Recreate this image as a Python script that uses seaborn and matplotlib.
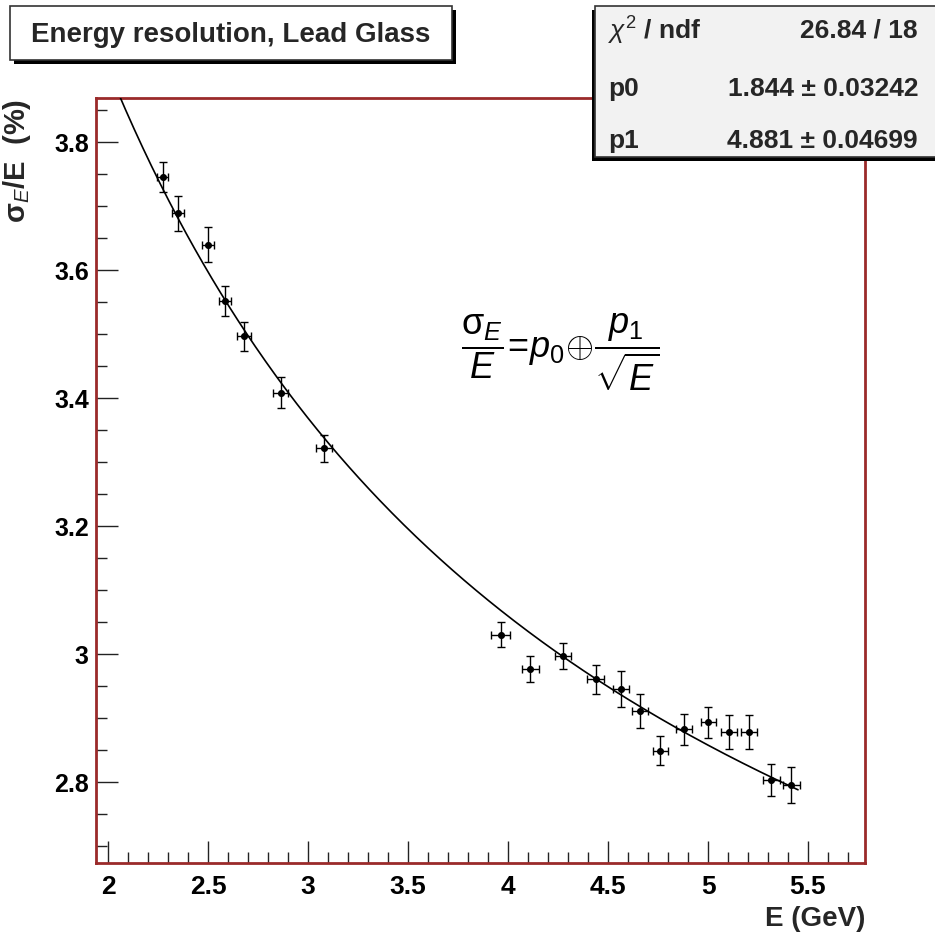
import numpy as np
import pandas as pd
import matplotlib
matplotlib.use("Agg")
import matplotlib.pyplot as plt
from matplotlib.patches import Rectangle
from matplotlib.ticker import MultipleLocator
import seaborn as sns

# ---- data ----
energy = [2.272, 2.350, 2.499, 2.584, 2.679, 2.862, 3.080, 3.962, 4.110, 4.274,
          4.437, 4.567, 4.659, 4.762, 4.880, 5.002, 5.105, 5.205, 5.317, 5.417]
resolution = [3.745, 3.688, 3.639, 3.551, 3.496, 3.408, 3.321, 3.030, 2.976, 2.997,
              2.960, 2.945, 2.911, 2.849, 2.882, 2.893, 2.878, 2.878, 2.803, 2.795]
energy_err = [0.029, 0.030, 0.031, 0.032, 0.034, 0.036, 0.040, 0.046, 0.042, 0.042,
              0.042, 0.040, 0.040, 0.036, 0.040, 0.037, 0.040, 0.040, 0.042, 0.042]
resolution_err = [0.023, 0.027, 0.027, 0.024, 0.023, 0.024, 0.021, 0.020, 0.020, 0.020,
                  0.022, 0.028, 0.027, 0.022, 0.024, 0.024, 0.027, 0.027, 0.025, 0.028]

# fit results shown in the stats box
p0, p0_err = 1.844, 0.03242
p1, p1_err = 4.881, 0.04699
chi2, ndf = 26.84, 18
fit_range = (2.0, 5.45)

title_text = "Energy resolution, Lead Glass"
x_ticks_major = [2, 2.5, 3, 3.5, 4, 4.5, 5, 5.5]
x_tick_labels = ["2", "2.5", "3", "3.5", "4", "4.5", "5", "5.5"]
y_ticks_major = [2.8, 3.0, 3.2, 3.4, 3.6, 3.8]
y_tick_labels = ["2.8", "3", "3.2", "3.4", "3.6", "3.8"]

df = pd.DataFrame({"E": energy, "res": resolution,
                   "dE": energy_err, "dres": resolution_err})
e_fit = np.linspace(fit_range[0], fit_range[1], 400)
fit_df = pd.DataFrame({"E": e_fit, "res": np.sqrt(p0 ** 2 + p1 ** 2 / e_fit)})

# ---- style ----
sns.set_theme(style="white")
plt.rcParams["font.family"] = ["Liberation Sans", "DejaVu Sans"]
plt.rcParams["font.weight"] = "bold"
plt.rcParams["mathtext.fontset"] = "custom"
plt.rcParams["mathtext.rm"] = "Liberation Sans:weight=normal"
plt.rcParams["mathtext.it"] = "Liberation Sans:style=italic:weight=normal"
plt.rcParams["mathtext.bf"] = "Liberation Sans:weight=bold"

W, H = 935, 945
fig = plt.figure(figsize=(W / 100, H / 100), dpi=100)
fig.patch.set_facecolor("white")

L, R, T, B = 95.7, 865.0, 99.0, 864.3
ax = fig.add_axes([L / W, 1 - B / H, (R - L) / W, (B - T) / H])
ax.set_facecolor("white")

# fit curve
sns.lineplot(data=fit_df, x="E", y="res", ax=ax, color="black", lw=1.2, zorder=3)
# data points with error bars
ax.errorbar(df["E"], df["res"], xerr=df["dE"], yerr=df["dres"], fmt="none",
            ecolor="black", elinewidth=1.0, capsize=3, capthick=1.0, zorder=4)
sns.scatterplot(data=df, x="E", y="res", ax=ax, color="black", s=26,
                marker="o", edgecolor="black", linewidth=0, zorder=5)

ax.set_xlim(1.937, 5.785)
ax.set_ylim(2.673, 3.868)
ax.set_xticks(x_ticks_major)
ax.set_xticklabels(x_tick_labels)
ax.set_yticks(y_ticks_major)
ax.set_yticklabels(y_tick_labels)
ax.xaxis.set_minor_locator(MultipleLocator(0.1))
ax.yaxis.set_minor_locator(MultipleLocator(0.05))
ax.tick_params(axis="both", which="both", direction="in", colors="#222222",
               bottom=True, left=True, top=False, right=False)
ax.tick_params(axis="both", which="major", length=16, width=1.0)
ax.tick_params(axis="both", which="minor", length=8, width=1.0)
ax.tick_params(axis="x", which="major", labelsize=19, pad=8, labelcolor="black")
ax.tick_params(axis="y", which="major", labelsize=18, pad=5, labelcolor="black")
for lab in ax.get_xticklabels() + ax.get_yticklabels():
    lab.set_fontweight("bold")

for s in ax.spines.values():
    s.set_color("#9a2a2a")
    s.set_linewidth(2.0)
    s.set_visible(True)

ax.set_xlabel("E (GeV)", fontsize=20, fontweight="bold", loc="right")
ax.xaxis.set_label_coords(1.0, -(906 - B) / (B - T))
ax.set_ylabel(r"$\mathregular{\sigma}_{E}$/E  (%)", fontsize=21, fontweight="bold", loc="top")
ax.yaxis.set_label_coords((33 - L) / (R - L), 1.0)

# formula
fig.text(560 / W, 1 - 352 / H,
         r"$\dfrac{\mathregular{\sigma}_{E}}{E}\!=\!p_{0}\!\oplus\!\dfrac{p_{1}}{\sqrt{E}}$",
         fontsize=26, fontweight="normal", ha="center", va="center", color="black")

# ---- title box ----
def fig_box(x0, y0, x1, y1, face, shadow=(4, 4), z=10):
    sx, sy = shadow
    fig.patches.append(Rectangle((x0 + sx, H - y1 - sy), x1 - x0, y1 - y0,
                                 transform=None, facecolor="black",
                                 edgecolor="black", lw=0, zorder=z))
    fig.patches.append(Rectangle((x0, H - y1), x1 - x0, y1 - y0,
                                 transform=None, facecolor=face,
                                 edgecolor="#333333", lw=1.2, zorder=z + 1))

fig_box(10, 7, 452, 61, "white")
fig.text(231 / W, 1 - 35 / H, title_text, fontsize=20, fontweight="bold",
         ha="center", va="center", zorder=12)

# ---- stats box ----
fig_box(595, 7, 945, 158, "#f2f2f2", shadow=(-3, 4))
rows = [(r"$\chi^{2}$ / ndf", f"{chi2:.2f} / {ndf}", 31),
        ("p0", f"{p0:.3f} ± {p0_err:.5f}", 89),
        ("p1", f"{p1:.3f} ± {p1_err:.5f}", 141)]
for left, right, yc in rows:
    fig.text(608 / W, 1 - yc / H, left, fontsize=19, fontweight="bold",
             ha="left", va="center", zorder=12)
    fig.text(918 / W, 1 - yc / H, right, fontsize=19, fontweight="bold",
             ha="right", va="center", zorder=12)

fig.savefig("out.png", dpi=100, facecolor="white")
